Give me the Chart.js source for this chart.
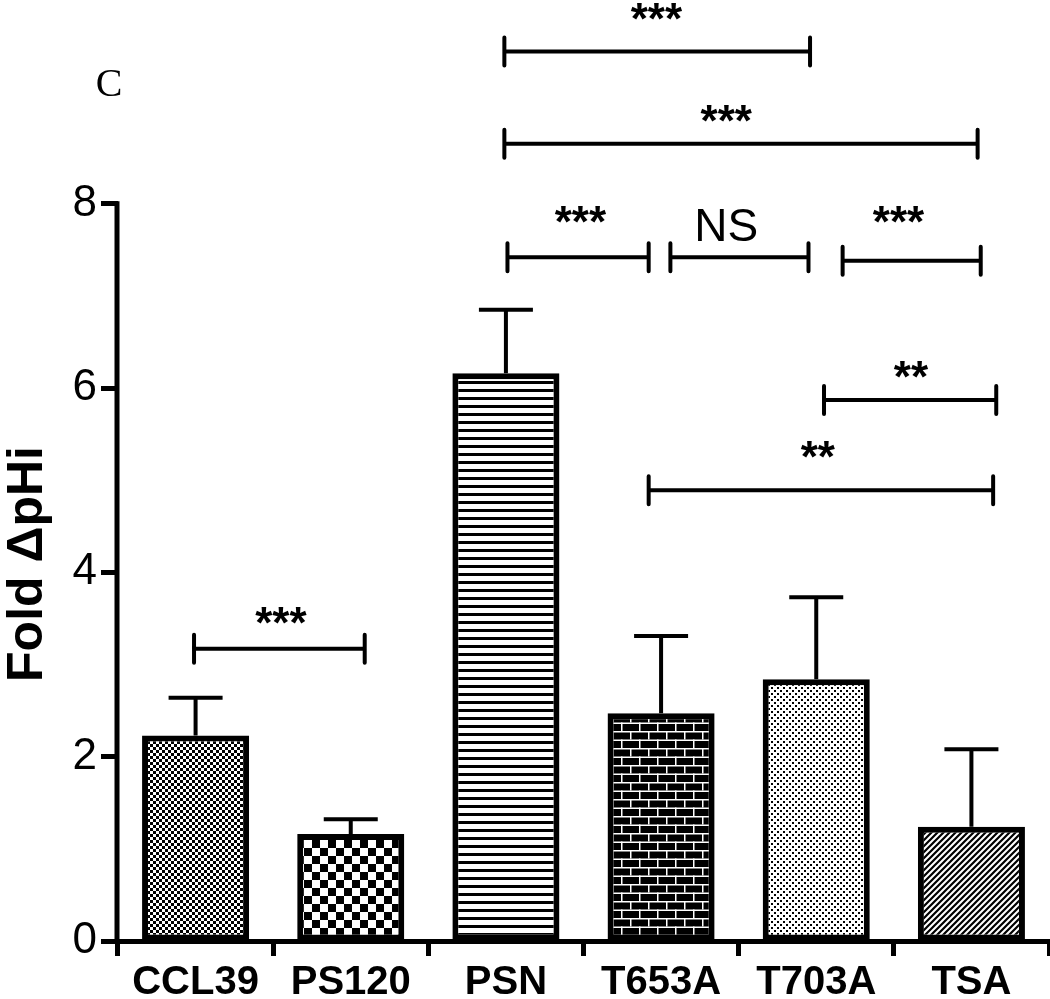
<!DOCTYPE html>
<html>
<head>
<meta charset="utf-8">
<title>Fold ΔpHi</title>
<script src="https://cdn.jsdelivr.net/npm/chart.js@4.4.0/dist/chart.umd.min.js"></script>
<style>
    html, body { margin: 0; padding: 0; background: #fff; }
    #wrap { width: 1050px; height: 999px; position: relative; }
</style>
</head>
<body>
<div id="wrap"><canvas id="foldChart"></canvas></div>
<script>
const categories = ['CCL39', 'PS120', 'PSN', 'T653A', 'T703A', 'TSA'];
const meanValues = [2.23, 1.16, 6.16, 2.47, 2.84, 1.24];
const errorTops = [2.64, 1.32, 6.85, 3.31, 3.73, 2.08];
const yTicks = [0, 2, 4, 6, 8];

// significance brackets (x in category units, y in data units)
const bracketFrom = [-0.01, 1.99, 1.99, 2.01, 3.06, 4.17, 4.05, 2.92];
const bracketTo = [1.09, 3.96, 5.04, 2.92, 3.95, 5.06, 5.16, 5.14];
const bracketY = [3.17, 9.65, 8.65, 7.42, 7.42, 7.38, 5.87, 4.89];
const bracketLabel = ['***', '***', '***', '***', 'NS', '***', '**', '**'];
const bracketLabelX = [0.55, 2.97, 3.42, 2.48, 3.42, 4.53, 4.61, 4.01];
const bracketLabelY = [3.56, 10.11, 9.01, 7.91, 7.78, 7.91, 6.23, 5.36];

const FONT = '"Liberation Sans", Arial, sans-serif';

// Build a small repeating fill pattern
function makePattern(w, h, draw) {
    const c = document.createElement('canvas');
    c.width = w;
    c.height = h;
    const p = c.getContext('2d');
    p.fillStyle = '#fff';
    p.fillRect(0, 0, w, h);
    p.fillStyle = '#000';
    p.strokeStyle = '#000';
    draw(p);
    return c.getContext('2d').createPattern(c, 'repeat');
}

const fineChecker = makePattern(6, 6, p => {
    p.fillRect(0, 0, 3, 3);
    p.fillRect(3, 3, 3, 3);
});
const bigChecker = makePattern(16, 16, p => {
    p.fillRect(0, 0, 8, 8);
    p.fillRect(8, 8, 8, 8);
});
const hLines = makePattern(8, 8, p => {
    p.fillRect(0, 5, 8, 3);
});
const bricks = makePattern(18, 17, p => {
    p.fillRect(0, 0, 18, 17);
    p.fillStyle = '#fff';
    p.fillRect(0, 0, 18, 1.5);
    p.fillRect(0, 8.5, 18, 1.5);
    p.fillRect(0, 0, 1.5, 8.5);
    p.fillRect(9, 8.5, 1.5, 8.5);
});
const dots = makePattern(6, 6, p => {
    p.fillRect(0, 0, 2, 2);
    p.fillRect(3, 3, 2, 2);
});
const diagonal = makePattern(6, 6, p => {
    p.lineWidth = 2.2;
    p.beginPath();
    p.moveTo(-1, 7); p.lineTo(7, -1);
    p.moveTo(-4, 4); p.lineTo(4, -4);
    p.moveTo(2, 10); p.lineTo(10, 2);
    p.stroke();
});
const barFills = [fineChecker, bigChecker, hLines, bricks, dots, diagonal];

// Error bars, axis line, brackets and labels
const annotatePlugin = {
    id: 'annotate',
    afterDatasetsDraw(chart) {
        const ctx = chart.ctx;
        const xs = chart.scales.x;
        const ys = chart.scales.y;
        const area = chart.chartArea;
        const meta = chart.getDatasetMeta(0);
        ctx.save();
        ctx.strokeStyle = '#000';
        ctx.fillStyle = '#000';

        // y axis line only from 0 to 8
        ctx.lineWidth = 5;
        ctx.beginPath();
        ctx.moveTo(area.left - 1, ys.getPixelForValue(0));
        ctx.lineTo(area.left - 1, ys.getPixelForValue(8) - 2.5);
        ctx.stroke();

        // upper error bars
        ctx.lineWidth = 4;
        meta.data.forEach((bar, i) => {
            const top = ys.getPixelForValue(errorTops[i]);
            ctx.beginPath();
            ctx.moveTo(bar.x, bar.y);
            ctx.lineTo(bar.x, top);
            ctx.moveTo(bar.x - 27, top);
            ctx.lineTo(bar.x + 27, top);
            ctx.stroke();
        });

        // significance brackets
        ctx.lineWidth = 4;
        ctx.lineCap = 'round';
        bracketFrom.forEach((from, i) => {
            const x1 = xs.getPixelForValue(from);
            const x2 = xs.getPixelForValue(bracketTo[i]);
            const yy = ys.getPixelForValue(bracketY[i]);
            ctx.beginPath();
            ctx.moveTo(x1, yy); ctx.lineTo(x2, yy);
            ctx.moveTo(x1, yy - 14); ctx.lineTo(x1, yy + 14);
            ctx.moveTo(x2, yy - 14); ctx.lineTo(x2, yy + 14);
            ctx.stroke();

            const lx = xs.getPixelForValue(bracketLabelX[i]);
            const ly = ys.getPixelForValue(bracketLabelY[i]);
            ctx.textAlign = 'center';
            ctx.textBaseline = 'alphabetic';
            if (bracketLabel[i] === 'NS') {
                ctx.font = '46px ' + FONT;
                ctx.fillText('NS', lx, ly + 0.36 * 46);
            } else {
                ctx.font = 'bold 44px ' + FONT;
                ctx.fillText(bracketLabel[i], lx, ly + 0.57 * 44);
            }
        });

        // y axis title
        ctx.save();
        ctx.translate(42, 564);
        ctx.rotate(-Math.PI / 2);
        ctx.font = 'bold 50px ' + FONT;
        ctx.textAlign = 'center';
        ctx.textBaseline = 'alphabetic';
        ctx.fillText('Fold ΔpHi', 0, 0);
        ctx.restore();

        // panel letter
        ctx.font = '40px "Liberation Serif", "Times New Roman", serif';
        ctx.textAlign = 'center';
        ctx.textBaseline = 'alphabetic';
        ctx.fillText('C', 109, 96);
        ctx.restore();
    }
};

new Chart(document.getElementById('foldChart'), {
    type: 'bar',
    data: {
        labels: categories,
        datasets: [{
            data: meanValues,
            backgroundColor: barFills,
            borderColor: '#000',
            borderWidth: 6,
            borderSkipped: false,
            barPercentage: 0.69,
            categoryPercentage: 1
        }]
    },
    options: {
        responsive: true,
        maintainAspectRatio: false,
        animation: false,
        layout: { padding: { left: 0, right: 1, top: 0, bottom: 0 } },
        plugins: {
            legend: { display: false },
            tooltip: { enabled: false }
        },
        scales: {
            x: {
                grid: {
                    display: true,
                    drawOnChartArea: false,
                    drawTicks: true,
                    tickLength: 15,
                    tickWidth: 5,
                    color: '#000'
                },
                border: { display: true, width: 5, color: '#000' },
                ticks: {
                    color: '#000',
                    padding: 3,
                    maxRotation: 0,
                    font: { family: FONT, size: 40, weight: 'bold' }
                },
                afterFit(scale) {
                    scale.height = 58;
                    scale.paddingLeft = 0;
                    scale.paddingRight = 0;
                }
            },
            y: {
                min: 0,
                max: 10.21,
                afterBuildTicks(axis) {
                    axis.ticks = yTicks.map(v => ({ value: v }));
                },
                grid: {
                    display: true,
                    drawOnChartArea: false,
                    drawTicks: true,
                    tickLength: 17,
                    tickWidth: 5,
                    color: '#000'
                },
                border: { display: false },
                ticks: {
                    color: '#000',
                    padding: 4,
                    font: { family: FONT, size: 44 }
                },
                afterFit(scale) {
                    scale.width = 118;
                    scale.paddingTop = 0;
                    scale.paddingBottom = 0;
                }
            }
        }
    },
    plugins: [annotatePlugin]
});
</script>
</body>
</html>
